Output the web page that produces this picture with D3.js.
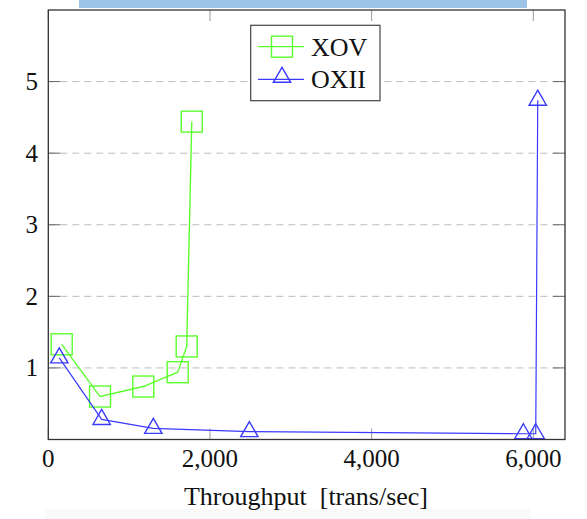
<!DOCTYPE html>
<html>
<head>
<meta charset="utf-8">
<script src="https://cdn.jsdelivr.net/npm/d3@7"></script>
<style>
  body { margin: 0; background: #fff; }
  svg { display: block; }
  svg text { font-family: "Liberation Serif", "DejaVu Serif", serif; }
</style>
</head>
<body>
<svg width="587" height="519"></svg>
<script>
// datos
const xovX = [166, 640, 1175, 1601, 1712, 1775];
const xovY = [1.33, 0.60, 0.74, 0.94, 1.30, 4.44];
const oxiiX = [136, 660, 1299, 2487, 5877, 6030, 6055];
const oxiiY = [1.14, 0.28, 0.156, 0.11, 0.08, 0.08, 4.74];
const xTicks = [0, 2000, 4000, 6000];
const yTicks = [1, 2, 3, 4, 5];
const seriesNames = ["XOV", "OXII"];

const pLeft = 48.3, pRight = 565, pTop = 10, pBottom = 439.5;
const svg = d3.select("svg");

// restos de la captura (barra azul arriba, sombra abajo)
svg.append("rect").attr("x", 79).attr("y", 0).attr("width", 448).attr("height", 8).attr("fill", "#9dc3e6");
svg.append("rect").attr("x", 45).attr("y", 509).attr("width", 485).attr("height", 10).attr("fill", "#f9f9f9");

const x = d3.scaleLinear().domain([0, 6392]).range([pLeft, pRight]);
const y = d3.scaleLinear().domain([0, 6]).range([pBottom, pTop]);

// rejilla horizontal discontinua
svg.append("g").selectAll("line").data(yTicks).enter().append("line")
  .attr("x1", pLeft).attr("x2", pRight)
  .attr("y1", d => y(d)).attr("y2", d => y(d))
  .attr("stroke", "#bbb").attr("stroke-width", 1).attr("stroke-dasharray", "7,5");

// marcas de los ejes (dentro del marco)
const tickG = svg.append("g");
yTicks.forEach(t => {
  tickG.append("line").attr("x1", pLeft).attr("x2", pLeft + 12).attr("y1", y(t)).attr("y2", y(t)).attr("stroke", "#666");
  tickG.append("line").attr("x1", pRight - 12).attr("x2", pRight).attr("y1", y(t)).attr("y2", y(t)).attr("stroke", "#666");
});
xTicks.forEach(t => {
  tickG.append("line").attr("x1", x(t)).attr("x2", x(t)).attr("y1", pBottom).attr("y2", pBottom - 11).attr("stroke", "#999");
  tickG.append("line").attr("x1", x(t)).attr("x2", x(t)).attr("y1", pTop).attr("y2", pTop + 11).attr("stroke", "#999");
});

// etiquetas de los ejes
svg.append("g").selectAll("text").data(xTicks).enter().append("text")
  .attr("x", d => x(d)).attr("y", 467)
  .attr("text-anchor", "middle").attr("font-size", 25).attr("fill", "#111")
  .text(d => d3.format(",")(d));

svg.append("g").selectAll("text").data(yTicks).enter().append("text")
  .attr("x", 38).attr("y", d => y(d) + 8.5)
  .attr("text-anchor", "end").attr("font-size", 25).attr("fill", "#111")
  .text(d => d);

svg.append("text").attr("x", 306).attr("y", 505)
  .attr("text-anchor", "middle").attr("font-size", 26).attr("fill", "#111")
  .style("white-space", "pre")
  .text("Throughput  [trans/sec]");

// series
const line = d3.line().x(d => x(d[0])).y(d => y(d[1]));
const xovData = xovX.map((v, i) => [v, xovY[i]]);
const oxiiData = oxiiX.map((v, i) => [v, oxiiY[i]]);
const green = "#5cff2e", blue = "#3a3aff";

const square = (g, cx, cy, s) => g.append("rect")
  .attr("x", cx - s / 2).attr("y", cy - s / 2).attr("width", s).attr("height", s)
  .attr("fill", "none").attr("stroke", green).attr("stroke-width", 1.4);

const triangle = (g, cx, cy, r) => g.append("path")
  .attr("d", `M${cx},${cy - r}L${cx + 0.866 * r},${cy + r / 2}L${cx - 0.866 * r},${cy + r / 2}Z`)
  .attr("fill", "none").attr("stroke", blue).attr("stroke-width", 1.4);

svg.append("path").datum(xovData).attr("d", line)
  .attr("fill", "none").attr("stroke", green).attr("stroke-width", 1.4);
const xovMarks = svg.append("g");
xovData.forEach(d => square(xovMarks, x(d[0]), y(d[1]), 21));

svg.append("path").datum(oxiiData).attr("d", line)
  .attr("fill", "none").attr("stroke", blue).attr("stroke-width", 1.2);
const oxiiMarks = svg.append("g");
oxiiData.forEach(d => triangle(oxiiMarks, x(d[0]), y(d[1]), 10));

// marco
svg.append("rect").attr("x", pLeft).attr("y", pTop)
  .attr("width", pRight - pLeft).attr("height", pBottom - pTop)
  .attr("fill", "none").attr("stroke", "#333").attr("stroke-width", 1.3);

// leyenda
const legend = svg.append("g");
legend.append("rect").attr("x", 250.7).attr("y", 25.3).attr("width", 129.3).attr("height", 75.4)
  .attr("fill", "#fff").attr("stroke", "#444").attr("stroke-width", 1.2);
[46.7, 79.3].forEach((ly, i) => {
  legend.append("line").attr("x1", 258).attr("x2", 304).attr("y1", ly).attr("y2", ly)
    .attr("stroke", i === 0 ? green : blue).attr("stroke-width", 1.3);
  if (i === 0) square(legend, 282, ly, 21);
  else triangle(legend, 282, ly - 2, 10);
  legend.append("text").attr("x", 311).attr("y", ly + 9).attr("font-size", 26).attr("fill", "#111")
    .text(seriesNames[i]);
});
</script>
</body>
</html>
